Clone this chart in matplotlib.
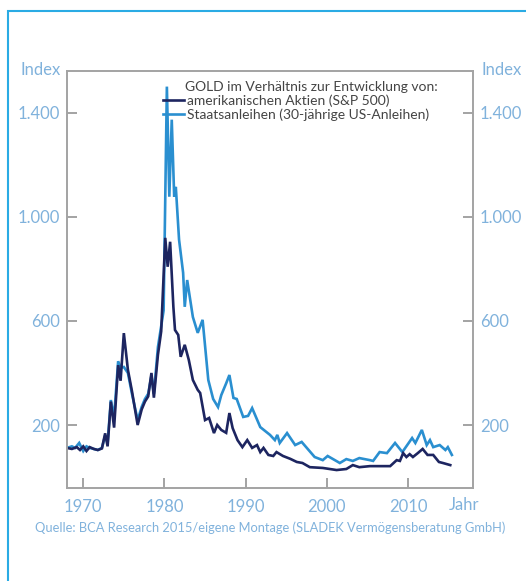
import matplotlib
matplotlib.use("Agg")
import matplotlib.pyplot as plt
from matplotlib.patches import Rectangle
from matplotlib.ticker import FuncFormatter

# ---------------- data ----------------
sp_years = [1968.0, 1968.6, 1969.2, 1969.6, 1970.0, 1970.4, 1970.8, 1971.3, 1971.8, 1972.3,
            1972.7, 1973.0, 1973.4, 1973.8, 1974.3, 1974.6, 1975.0, 1975.5, 1976.0, 1976.7,
            1977.2, 1977.6, 1978.0, 1978.4, 1978.7, 1979.2, 1979.6, 1980.1, 1980.4, 1980.7,
            1981.1, 1981.3, 1981.7, 1982.0, 1982.5, 1983.0, 1983.5, 1984.1, 1984.4, 1985.0,
            1985.5, 1986.1, 1986.5, 1987.0, 1987.6, 1988.0, 1988.4, 1989.0, 1989.6, 1990.2,
            1990.8, 1991.4, 1991.8, 1992.2, 1992.8, 1993.4, 1993.8, 1994.6, 1995.5, 1996.3,
            1997.0, 1997.9, 1999.5, 2001.2, 2002.4, 2003.2, 2004.0, 2005.3, 2007.8, 2008.6,
            2009.0, 2009.4, 2009.8, 2010.2, 2010.6, 2011.2, 2011.8, 2012.4, 2013.1, 2013.8,
            2014.3, 2015.2]
sp_values = [112, 108, 115, 104, 118, 100, 115, 108, 104, 110,
             168, 118, 290, 190, 430, 370, 553, 412, 330, 200,
             260, 290, 310, 400, 305, 470, 560, 919, 808, 904,
             654, 565, 546, 462, 508, 450, 373, 335, 323, 219,
             227, 169, 200, 181, 170, 246, 188, 142, 115, 142,
             112, 123, 96, 112, 85, 81, 96, 81, 70, 58,
             54, 38, 35, 27, 31, 46, 38, 42, 42, 65,
             62, 92, 77, 88, 77, 92, 108, 85, 85, 58,
             54, 46]

bond_years = [1968.0, 1968.6, 1969.0, 1969.5, 1970.0, 1970.4, 1970.8, 1971.3, 1971.8, 1972.3,
              1972.7, 1973.0, 1973.4, 1973.8, 1974.3, 1974.6, 1975.0, 1975.5, 1976.0, 1976.7,
              1977.2, 1977.6, 1978.0, 1978.4, 1978.7, 1979.2, 1979.6, 1979.9, 1980.3, 1980.6,
              1980.9, 1981.2, 1981.4, 1981.8, 1982.3, 1982.5, 1982.8, 1983.5, 1984.1, 1984.7,
              1985.4, 1986.0, 1986.6, 1987.0, 1987.6, 1988.0, 1988.5, 1988.9, 1989.7, 1990.3,
              1990.8, 1991.8, 1993.0, 1993.6, 1993.9, 1994.2, 1995.1, 1996.1, 1996.9, 1998.5,
              1999.5, 2000.1, 2001.6, 2002.4, 2003.2, 2004.0, 2005.3, 2005.7, 2006.5, 2007.4,
              2008.4, 2009.3, 2010.5, 2010.9, 2011.7, 2012.3, 2012.7, 2013.1, 2013.9, 2014.6,
              2014.9, 2015.4]
bond_values = [112, 118, 112, 131, 100, 118, 112, 108, 104, 112,
               160, 130, 296, 230, 445, 420, 423, 400, 320, 219,
               270, 300, 320, 390, 320, 500, 580, 640, 1500, 1077,
               1373, 1077, 1115, 912, 785, 654, 757, 615, 554, 604,
               373, 300, 269, 315, 360, 392, 304, 300, 231, 235,
               265, 192, 162, 142, 162, 131, 169, 123, 135, 77,
               65, 81, 54, 69, 62, 73, 65, 62, 96, 92,
               131, 96, 150, 131, 181, 123, 142, 115, 123, 104,
               115, 85]

y_ticks = [200, 600, 1000, 1400]
x_ticks = [1970, 1980, 1990, 2000, 2010]

label_sp = "amerikanischen Aktien (S&P 500)"
label_bond = "Staatsanleihen (30-jährige US-Anleihen)"
legend_title = "GOLD im Verhältnis zur Entwicklung von:"
source_text = "Quelle: BCA Research 2015/eigene Montage (SLADEK Vermögensberatung GmbH)"

# ---------------- style ----------------
plt.rcParams['font.family'] = ['Lato', 'DejaVu Sans']
DARK = "#1d2560"
LIGHT = "#2a8fd0"
TICKC = "#80b2dc"
SPINE = "#a3a3a3"

fig = plt.figure(figsize=(5.26, 5.81), dpi=100)
W, H = 526, 581

# outer frame
fig.patches.append(Rectangle((8 / W, -0.05), 1.2, 0.981 + 0.05, transform=fig.transFigure,
                             fill=False, edgecolor="#2aabe4", linewidth=1.5))

ax = fig.add_axes([67 / W, 1 - 488 / H, 406 / W, 417 / H])
ax.plot(bond_years, bond_values, color=LIGHT, lw=1.9, label=label_bond, solid_joinstyle='miter')
ax.plot(sp_years, sp_values, color=DARK, lw=1.9, label=label_sp, solid_joinstyle='miter')

ax.set_xlim(1968, 2018)
ax.set_ylim(-42, 1560)

fmt = FuncFormatter(lambda v, p: f"{int(v):,}".replace(",", "."))
ax.set_yticks(y_ticks)
ax.yaxis.set_major_formatter(fmt)
ax.set_xticks(x_ticks)

for s in ax.spines.values():
    s.set_color(SPINE)
    s.set_linewidth(1.4)

ax.tick_params(axis='both', direction='in', length=7, width=1.4, color=SPINE,
               labelcolor=TICKC, labelsize=12)
ax.tick_params(axis='y', pad=5, left=True, right=True, labelleft=True, labelright=True)
ax.tick_params(axis='x', pad=8)

# legend
handles, labels = ax.get_legend_handles_labels()
leg = ax.legend([handles[1], handles[0]], [labels[1], labels[0]],
                loc='upper left', bbox_to_anchor=((163 - 67) / 406, 1 - (94 - 71) / 417),
                frameon=False, fontsize=10, handlelength=1.5, handletextpad=0.25,
                labelspacing=0.12, borderpad=0, borderaxespad=0)
for t in leg.get_texts():
    t.set_color("#444444")
ax.text((185 - 67) / 406, 1 - (87 - 71) / 417, legend_title, transform=ax.transAxes,
        fontsize=10, color="#444444", ha='left', va='center')

# outside labels
fig.text(41 / W, 1 - 70 / H, "Index", color=TICKC, fontsize=12, ha='center', va='center')
fig.text(502 / W, 1 - 70 / H, "Index", color=TICKC, fontsize=12, ha='center', va='center')
fig.text(464 / W, 1 - 505 / H, "Jahr", color=TICKC, fontsize=12, ha='center', va='center')
fig.text(270 / W, 1 - 528 / H, source_text, color=TICKC, fontsize=9.3, ha='center', va='center')

fig.savefig("out.png", dpi=100)
